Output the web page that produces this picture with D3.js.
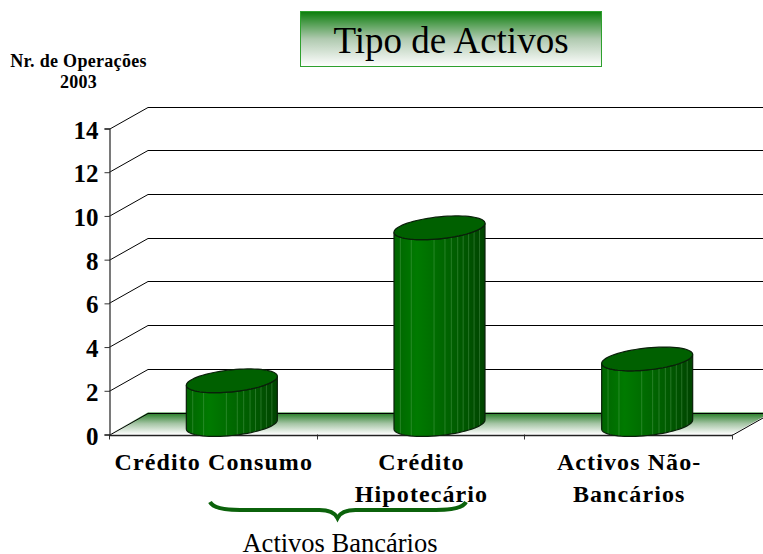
<!DOCTYPE html>
<html>
<head>
<meta charset="utf-8">
<script src="https://cdn.jsdelivr.net/npm/d3@7"></script>
<style>
html, body { margin: 0; padding: 0; background: #fff; }
svg { display: block; font-family: "Liberation Serif", serif; }
</style>
</head>
<body>
<div id="chart"></div>
<script>
var categories = [['Crédito Consumo'], ['Crédito', 'Hipotecário'], ['Activos Não-', 'Bancários']];
var operacoes = [2, 9, 3];
var yTicks = [0, 2, 4, 6, 8, 10, 12, 14];
var titulo = 'Tipo de Activos';
var yTitulo = ['Nr. de Operações', '2003'];
var grupo = 'Activos Bancários';

var width = 763, height = 554;
var depth = { x: 39, y: -22 };
var plot = { left: 109, right: 732, bottom: 434.5, top: 128.5 };

var svg = d3.select('#chart').append('svg')
    .attr('width', width)
    .attr('height', height);

var x = d3.scaleBand()
    .domain(d3.range(categories.length))
    .range([plot.left, plot.right]);

var y = d3.scaleLinear()
    .domain([0, 14])
    .range([plot.bottom, plot.top]);

var defs = svg.append('defs');

// gradientes
function vertGrad(id, c1, c2, c3) {
    var g = defs.append('linearGradient').attr('id', id)
        .attr('x1', 0).attr('y1', 0).attr('x2', 0).attr('y2', 1);
    g.append('stop').attr('offset', 0).attr('stop-color', c1);
    g.append('stop').attr('offset', 0.5).attr('stop-color', c2);
    g.append('stop').attr('offset', 1).attr('stop-color', c3);
}
vertGrad('floorGrad', '#1f7a1f', '#a4c4a4', '#ffffff');
vertGrad('titleGrad', '#0b7d0b', '#b0cab0', '#ffffff');

var barGrad = defs.append('linearGradient').attr('id', 'barGrad')
    .attr('x1', 0).attr('y1', 0).attr('x2', 1).attr('y2', 0);
[[0, '#006400'], [0.25, '#007a00'], [0.55, '#006600'], [0.8, '#005500'], [1, '#004400']].forEach(function (s) {
    barGrad.append('stop').attr('offset', s[0]).attr('stop-color', s[1]);
});

// chão
svg.append('path')
    .attr('d', d3.line()([
        [plot.left, y(0)],
        [plot.left + depth.x, y(0) + depth.y],
        [plot.right + depth.x, y(0) + depth.y],
        [plot.right, y(0)]
    ]))
    .attr('fill', 'url(#floorGrad)');

// grelha
var grid = svg.append('g').attr('fill', 'none').attr('stroke', '#000').attr('stroke-width', 1);
yTicks.forEach(function (t) {
    var yy = Math.round(y(t)) + 0.5;
    grid.append('path').attr('d', d3.line()([
        [plot.left, yy],
        [plot.left + depth.x, yy + depth.y],
        [plot.right + depth.x, yy + depth.y]
    ]));
});
grid.append('path').attr('d', d3.line()([
    [plot.right, Math.round(y(0)) + 0.5],
    [plot.right + depth.x, Math.round(y(0)) + 0.5 + depth.y]
]));

// eixos
var yAxis = svg.append('g')
    .attr('transform', 'translate(' + (plot.left + 0.5) + ',0)')
    .call(d3.axisLeft(y).tickValues(yTicks).tickSize(5).tickFormat(d3.format('d')));
yAxis.selectAll('line').attr('stroke', '#333');
yAxis.select('.domain').attr('stroke', '#333').attr('stroke-width', 1.3);
yAxis.selectAll('text')
    .attr('x', -11)
    .attr('dy', '0.38em')
    .attr('font-family', '"Liberation Serif", serif')
    .attr('font-size', 25)
    .attr('font-weight', 'bold')
    .attr('fill', '#000');

var xEdges = d3.range(categories.length + 1).map(function (i) {
    return i < categories.length ? x(i) : plot.right;
});
svg.append('g').selectAll('line')
    .data(xEdges)
    .enter()
    .append('line')
    .attr('x1', function (d) { return Math.round(d) + 0.5; })
    .attr('x2', function (d) { return Math.round(d) + 0.5; })
    .attr('y1', y(0))
    .attr('y2', y(0) + 5)
    .attr('stroke', '#333');
svg.append('line')
    .attr('x1', plot.left).attr('x2', plot.right)
    .attr('y1', Math.round(y(0)) + 0.5).attr('y2', Math.round(y(0)) + 0.5)
    .attr('stroke', '#222').attr('stroke-width', 1.3);

// cilindros
var halfW = 45.5, tiltY = 4.5, flatY = 11;
var angles = d3.range(0, 361, 5).map(function (a) { return a * Math.PI / 180; });
function ellipsePoint(cx, cy, t) {
    return [cx + halfW * Math.cos(t), cy - tiltY * Math.cos(t) - flatY * Math.sin(t)];
}
var streaks = [0.07, 0.19, 0.44, 0.56, 0.63, 0.7, 0.76, 0.82, 0.88, 0.94];

operacoes.forEach(function (v, i) {
    var cx = x(i) + x.bandwidth() / 2 + depth.x / 2 - 0.5;
    var cyTop = y(v) + depth.y / 2 + 1;
    var cyBase = y(0) + depth.y / 2 + 1;
    var front = angles.filter(function (t) { return t >= Math.PI - 0.001; });
    var body = front.map(function (t) { return ellipsePoint(cx, cyBase, t); })
        .concat(front.slice().reverse().map(function (t) { return ellipsePoint(cx, cyTop, t); }));

    var id = 'clip' + i;
    defs.append('clipPath').attr('id', id).append('path').attr('d', d3.line()(body) + 'Z');

    var g = svg.append('g').attr('class', 'bar');
    g.append('path')
        .attr('d', d3.line()(body) + 'Z')
        .attr('fill', 'url(#barGrad)');
    g.append('g').attr('clip-path', 'url(#' + id + ')')
        .selectAll('line')
        .data(streaks)
        .enter()
        .append('line')
        .attr('x1', function (d) { return cx - halfW + d * 2 * halfW; })
        .attr('x2', function (d) { return cx - halfW + d * 2 * halfW; })
        .attr('y1', cyTop - 20)
        .attr('y2', cyBase + 20)
        .attr('stroke', '#7fbf7f')
        .attr('stroke-opacity', 0.3)
        .attr('stroke-width', 1);
    g.append('path')
        .attr('d', d3.line()(body) + 'Z')
        .attr('fill', 'none')
        .attr('stroke', '#0a200a')
        .attr('stroke-width', 1.2);
    g.append('path')
        .attr('d', d3.line()(angles.map(function (t) { return ellipsePoint(cx, cyTop, t); })) + 'Z')
        .attr('fill', '#006000')
        .attr('stroke', '#0a200a')
        .attr('stroke-width', 1.2);
});

// etiquetas
var labels = svg.append('g')
    .attr('font-size', 24)
    .attr('font-weight', 'bold')
    .attr('letter-spacing', 1.1)
    .attr('text-anchor', 'middle');
categories.forEach(function (lines, i) {
    lines.forEach(function (s, j) {
        labels.append('text')
            .attr('x', x(i) + x.bandwidth() / 2 + 1)
            .attr('y', 470 + j * 32)
            .text(s);
    });
});

// título
svg.append('rect')
    .attr('x', 300.5).attr('y', 11.5)
    .attr('width', 301).attr('height', 55)
    .attr('fill', 'url(#titleGrad)')
    .attr('stroke', '#2ea02e');
svg.append('text')
    .attr('x', 451).attr('y', 53)
    .attr('text-anchor', 'middle')
    .attr('font-size', 37)
    .text(titulo);

yTitulo.forEach(function (s, j) {
    svg.append('text')
        .attr('x', 78.5).attr('y', 67 + j * 21)
        .attr('text-anchor', 'middle')
        .attr('font-size', 18)
        .attr('font-weight', 'bold')
        .attr('letter-spacing', 0.3)
        .text(s);
});

// chaveta
var bx0 = 210, bx1 = 466, by = 510, bmid = 337.5;
svg.append('path')
    .attr('d', 'M' + bx0 + ',' + (by - 8) + 'Q' + (bx0 + 4) + ',' + by + ' ' + (bx0 + 30) + ',' + by +
        'L' + (bmid - 18) + ',' + by + 'Q' + (bmid - 4) + ',' + by + ' ' + bmid + ',' + (by + 8) +
        'Q' + (bmid + 4) + ',' + by + ' ' + (bmid + 18) + ',' + by +
        'L' + (bx1 - 30) + ',' + by + 'Q' + (bx1 - 4) + ',' + by + ' ' + bx1 + ',' + (by - 8))
    .attr('fill', 'none')
    .attr('stroke', '#0b620b')
    .attr('stroke-width', 4);

svg.append('text')
    .attr('x', 340).attr('y', 552)
    .attr('text-anchor', 'middle')
    .attr('font-size', 26.5)
    .text(grupo);
</script>
</body>
</html>
